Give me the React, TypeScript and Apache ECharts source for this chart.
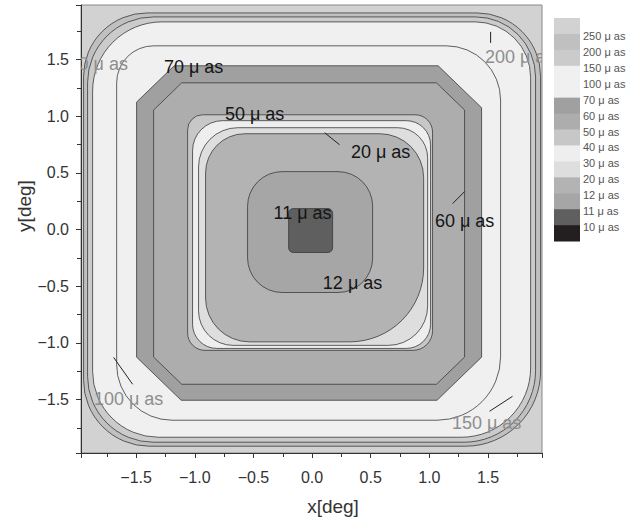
import React, { useEffect, useRef } from 'react';
import * as echarts from 'echarts';

// ---------- data ----------
// colour-bar levels (μas), top to bottom
const legendLevels = [250, 200, 150, 100, 70, 60, 50, 40, 30, 20, 12, 11, 10];
// band colours: above 250 ... below 10
const bandColors = ['#d2d2d2', '#c0c0c0', '#cbcbcb', '#f0f0f0', '#f0f0f0', '#a0a0a0', '#adadad', '#c7c7c7', '#eeeeee', '#dedede', '#b3b3b3', '#a6a6a6', '#5f5f5f', '#231f20'];

// contour lines in the map, outermost first (μas)
const contourLevels = [250, 200, 150, 100, 70, 60, 50, 40, 30, 20, 12, 11];
// extents of each contour [deg]
const contourLeft = [-1.948, -1.914, -1.871, -1.666, -1.496, -1.351, -1.061, -1.019, -0.968, -0.908, -0.550, -0.200];
const contourRight = [1.948, 1.905, 1.863, 1.607, 1.445, 1.300, 1.027, 1.010, 0.985, 0.951, 0.516, 0.175];
const contourTop = [1.910, 1.875, 1.831, 1.620, 1.444, 1.294, 1.012, 0.960, 0.898, 0.845, 0.511, 0.185];
const contourBottom = [-1.910, -1.875, -1.831, -1.681, -1.505, -1.364, -1.065, -1.048, -1.021, -0.990, -0.555, -0.202];
// corner size [deg]: top-left, top-right, bottom-right, bottom-left
const contourCorners = [
  [0.55, 0.55, 0.65, 0.57],
  [0.57, 0.52, 0.62, 0.57],
  [0.6, 0.48, 0.6, 0.57],
  [0.32, 0.47, 0.55, 0.48],
  [0.32, 0.37, 0.38, 0.38],
  [0.24, 0.24, 0.24, 0.24],
  [0.13, 0.15, 0.17, 0.15],
  [0.26, 0.21, 0.21, 0.21],
  [0.34, 0.26, 0.34, 0.3],
  [0.34, 0.38, 0.64, 0.38],
  [0.3, 0.3, 0.3, 0.3],
  [0.04, 0.04, 0.04, 0.04],
];
const contourCornerKind = ['round', 'round', 'round', 'round', 'chamfer', 'chamfer', 'round', 'round', 'round', 'round', 'round', 'round'];

// contour labels
const labelTexts = ['70 μ as', '50 μ as', '20 μ as', '60 μ as', '11 μ as', '12 μ as', '100 μ as', '150 μ as', '200 μ as', '0 μ as'];
const labelX = [-1.01, -0.49, 0.584, 1.3, -0.081, 0.345, -1.564, 1.488, 1.769, -1.78];
const labelY = [1.435, 1.021, 0.687, 0.079, 0.15, -0.467, -1.496, -1.708, 1.523, 1.461];
const labelGray = [false, false, false, false, false, false, true, true, true, true];

// short contour-line pieces beside labels [x1, y1, x2, y2] (deg)
const leaderLines = [
  [0.107, 0.854, 0.234, 0.748],
  [1.198, 0.229, 1.3, 0.335],
  [1.522, 1.743, 1.522, 1.646],
  [-1.692, -1.127, -1.53, -1.364],
  [1.513, -1.602, 1.709, -1.47],
];

const xRange = [-1.97, 1.96];
const yRange = [-1.97, 1.98];

const FONT = '"Liberation Sans", Arial, sans-serif';
const fmt = (v: number) => (v < 0 ? '\u2212' : '') + Math.abs(v).toFixed(1);

export default function App() {
  const ref = useRef<HTMLDivElement>(null);

  useEffect(() => {
    if (!ref.current) return;
    const chart = echarts.init(ref.current, undefined, { renderer: 'svg' });

    const legendTop = 18;
    const boxH = 15.93;
    const legendGraphics: any[] = [];
    bandColors.forEach((c, i) => {
      legendGraphics.push({
        type: 'rect',
        shape: { x: 554, y: legendTop + i * boxH, width: 26, height: boxH + 0.5 },
        style: { fill: c },
      });
    });
    legendLevels.forEach((lv, i) => {
      legendGraphics.push({
        type: 'text',
        x: 583,
        y: legendTop + (i + 1) * boxH + 2,
        style: {
          text: lv + ' μ as',
          fill: '#555',
          font: '11px ' + FONT,
          align: 'left',
          verticalAlign: 'middle',
          textAlign: 'left',
          textVerticalAlign: 'middle',
        },
      });
    });

    const axisCommon = {
      type: 'value',
      splitNumber: 8,
      axisLine: { show: true, onZero: false, lineStyle: { color: '#333', width: 1 } },
      axisTick: { show: true, length: 5, lineStyle: { color: '#333' } },
      minorTick: { show: true, splitNumber: 2, length: 4, lineStyle: { color: '#333' } },
      splitLine: { show: false },
      minorSplitLine: { show: false },
    };

    const option: any = {
      animation: false,
      backgroundColor: '#ffffff',
      grid: {
        left: 81,
        top: 5,
        width: 461,
        height: 448,
        show: true,
        backgroundColor: bandColors[0],
        borderColor: '#888',
        borderWidth: 1,
        containLabel: false,
        outerBoundsMode: 'none',
      },
      xAxis: {
        ...axisCommon,
        min: xRange[0],
        max: xRange[1],
        axisLabel: {
          showMinLabel: false,
          showMaxLabel: false,
          formatter: fmt,
          fontSize: 16,
          color: '#333',
          margin: 16,
          fontFamily: FONT,
        },
      },
      yAxis: {
        ...axisCommon,
        min: yRange[0],
        max: yRange[1],
        axisLabel: {
          showMinLabel: false,
          showMaxLabel: false,
          formatter: fmt,
          fontSize: 16,
          color: '#333',
          margin: 12,
          fontFamily: FONT,
        },
      },
      graphic: [
        {
          type: 'text',
          x: 24,
          y: 206,
          rotation: Math.PI / 2,
          style: {
            text: 'y[deg]',
            fill: '#333',
            font: '19px ' + FONT,
            align: 'center',
            verticalAlign: 'middle',
            textAlign: 'center',
            textVerticalAlign: 'middle',
          },
        },
        {
          type: 'text',
          x: 333,
          y: 506,
          style: {
            text: 'x[deg]',
            fill: '#333',
            font: '19px ' + FONT,
            align: 'center',
            verticalAlign: 'middle',
            textAlign: 'center',
            textVerticalAlign: 'middle',
          },
        },
        ...legendGraphics,
      ],
      series: [
        {
          type: 'custom',
          clip: true,
          z: 2,
          data: contourLevels.map((lv, i) => [contourLeft[i], contourTop[i], lv]),
          encode: { x: 0, y: 1 },
          renderItem: (params: any, api: any) => {
            const i = params.dataIndex;
            const l = contourLeft[i];
            const r = contourRight[i];
            const t = contourTop[i];
            const b = contourBottom[i];
            const c = contourCorners[i];
            const style = { fill: bandColors[i + 1], stroke: '#3a3a3a', lineWidth: 0.8 };
            if (contourCornerKind[i] === 'chamfer') {
              const pts = [
                [l, t - c[0]], [l + c[0], t], [r - c[1], t], [r, t - c[1]],
                [r, b + c[2]], [r - c[2], b], [l + c[3], b], [l, b + c[3]],
              ].map((p) => api.coord(p));
              return { type: 'polygon', shape: { points: pts }, style };
            }
            const p1 = api.coord([l, t]);
            const p2 = api.coord([r, b]);
            const rad = c.map((v) => {
              const s = api.size([v, v]);
              return (s[0] + s[1]) / 2;
            });
            return {
              type: 'rect',
              shape: { x: p1[0], y: p1[1], width: p2[0] - p1[0], height: p2[1] - p1[1], r: rad },
              style,
            };
          },
        },
        {
          type: 'custom',
          clip: true,
          z: 4,
          data: leaderLines.map((s) => [s[0], s[1]]),
          encode: { x: 0, y: 1 },
          renderItem: (params: any, api: any) => {
            const s = leaderLines[params.dataIndex];
            const a = api.coord([s[0], s[1]]);
            const b = api.coord([s[2], s[3]]);
            return {
              type: 'line',
              shape: { x1: a[0], y1: a[1], x2: b[0], y2: b[1] },
              style: { stroke: '#222', lineWidth: 1 },
            };
          },
        },
        {
          type: 'custom',
          clip: true,
          z: 5,
          data: labelTexts.map((_, i) => [labelX[i], labelY[i]]),
          encode: { x: 0, y: 1 },
          renderItem: (params: any, api: any) => {
            const i = params.dataIndex;
            const p = api.coord([labelX[i], labelY[i]]);
            return {
              type: 'text',
              x: p[0],
              y: p[1],
              style: {
                text: labelTexts[i],
                fill: labelGray[i] ? '#8e8e8e' : '#151515',
                font: '18px ' + FONT,
                align: 'center',
                verticalAlign: 'middle',
                textAlign: 'center',
                textVerticalAlign: 'middle',
              },
            };
          },
        },
      ],
    };

    chart.setOption(option);
    return () => chart.dispose();
  }, []);

  return (
    <div
      ref={ref}
      style={{ position: 'absolute', left: 0, top: 0, width: 635, height: 521, background: '#fff' }}
    />
  );
}
